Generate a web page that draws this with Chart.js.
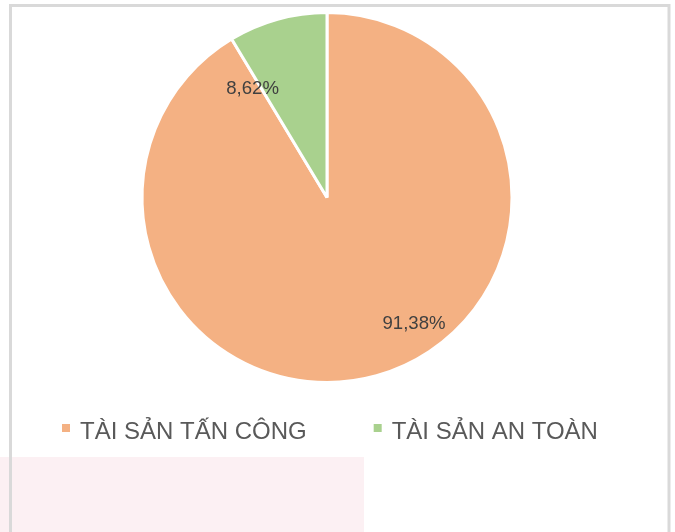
<!DOCTYPE html>
<html>
<head>
<meta charset="utf-8">
<script src="https://cdn.jsdelivr.net/npm/chart.js@4/dist/chart.umd.min.js"></script>
<style>
  html, body { margin: 0; padding: 0; background: #fff; }
  #wrap { width: 675px; height: 532px; position: relative; }
</style>
</head>
<body>
<div id="wrap"><canvas id="pieChart" width="675" height="532"></canvas></div>
<script>
const categories = ['TÀI SẢN TẤN CÔNG', 'TÀI SẢN AN TOÀN'];
const shares = [91.38, 8.62];
const sliceColors = ['#F4B183', '#A9D18E'];

// where each percentage sits: radius fraction, turn from the slice middle (deg)
const labelRadius = [0.83, 0.71];
const labelTurn = [-19, -19];

const fmt = v => v.toFixed(2).replace('.', ',') + '%';

// frame + pink block behind the chart
const backdrop = {
    id: 'backdrop',
    beforeDraw(chart) {
        const ctx = chart.ctx;
        ctx.save();
        ctx.fillStyle = '#fff';
        ctx.fillRect(0, 0, chart.width, chart.height);
        ctx.fillStyle = '#fcf0f3';
        ctx.fillRect(0, 457, 364, 75);
        ctx.strokeStyle = '#d9d9d9';
        ctx.lineWidth = 3;
        ctx.beginPath();
        ctx.moveTo(10.5, 540);
        ctx.lineTo(10.5, 5.5);
        ctx.lineTo(669, 5.5);
        ctx.lineTo(669, 540);
        ctx.stroke();
        ctx.restore();
    }
};

// percentage labels inside the slices
const sliceLabels = {
    id: 'sliceLabels',
    afterDatasetsDraw(chart) {
        const ctx = chart.ctx;
        const meta = chart.getDatasetMeta(0);
        ctx.save();
        ctx.font = '18.6px "Liberation Sans", Arial, sans-serif';
        ctx.fillStyle = '#404040';
        ctx.textAlign = 'center';
        ctx.textBaseline = 'middle';
        meta.data.forEach((arc, i) => {
            const p = arc.getProps(['x', 'y', 'startAngle', 'endAngle', 'outerRadius'], true);
            const a = (p.startAngle + p.endAngle) / 2 + labelTurn[i] * Math.PI / 180;
            const r = p.outerRadius * labelRadius[i];
            ctx.fillText(fmt(shares[i]), p.x + Math.cos(a) * r, p.y + Math.sin(a) * r);
        });
        ctx.restore();
    }
};

// legend row under the pie
const bottomLegend = {
    id: 'bottomLegend',
    afterDraw(chart) {
        const ctx = chart.ctx;
        ctx.save();
        ctx.font = '24px "Liberation Sans", Arial, sans-serif';
        ctx.textBaseline = 'alphabetic';
        let x = 62;
        chart.data.labels.forEach((lab, i) => {
            ctx.fillStyle = sliceColors[i];
            ctx.fillRect(x, 424, 8, 8);
            x += 8 + 10;
            ctx.fillStyle = '#595959';
            ctx.fillText(lab, x, 439);
            x += ctx.measureText(lab).width + 67;
        });
        ctx.restore();
    }
};

new Chart(document.getElementById('pieChart').getContext('2d'), {
    type: 'pie',
    data: {
        labels: categories,
        datasets: [{
            data: shares,
            backgroundColor: sliceColors,
            borderColor: '#ffffff',
            borderWidth: 3
        }]
    },
    options: {
        responsive: false,
        animation: false,
        layout: { padding: { top: 11, bottom: 148, left: 0, right: 21 } },
        plugins: {
            legend: { display: false },
            tooltip: { enabled: false }
        }
    },
    plugins: [backdrop, sliceLabels, bottomLegend]
});
</script>
</body>
</html>
